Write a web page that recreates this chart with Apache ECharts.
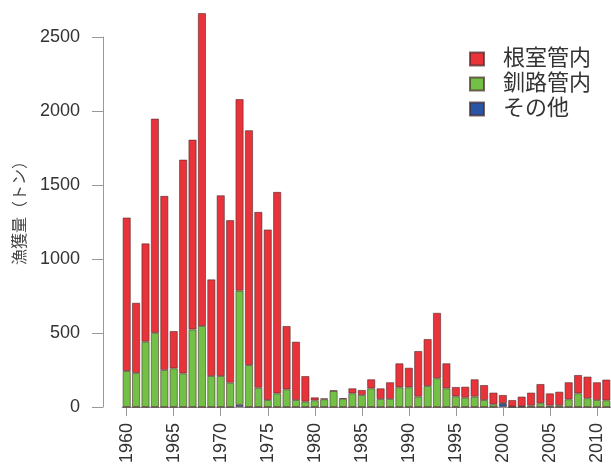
<!DOCTYPE html>
<html><head><meta charset="utf-8">
<script src="https://cdn.jsdelivr.net/npm/echarts@6/dist/echarts.min.js"></script>
<style>html,body{margin:0;padding:0;background:#fff}#c{width:611px;height:475px}</style>
</head><body><div id="c"></div>
<script>
var years = [];
for (var y = 1960; y <= 2011; y++) years.push(String(y));
var seriesNames = ['根室管内', '釧路管内', 'その他'];
var totals = [1280,704,1105,1948,1426,513,1671,1806,2661,862,
              1430,1262,2080,1870,1318,1199,1453,547,441,209,
              65,58,112,60,126,115,187,126,167,295,
              265,378,459,636,295,135,137,187,148,97,
              81,47,70,97,155,92,103,167,216,205,
              167,185];
var kushiro = [243,230,441,501,250,261,227,524,547,209,
               209,164,771,283,130,47,92,119,47,36,
               45,52,108,55,92,81,126,54,54,133,
               133,70,142,194,126,72,63,70,47,18,
               5,3,5,10,25,10,12,52,92,59,
               47,45];
var sonota = [0,0,0,0,0,0,0,0,0,0,
              0,0,15,0,0,0,0,0,0,0,
              0,0,0,0,0,0,0,0,0,0,
              0,0,0,0,0,0,0,0,0,0,
              22,0,0,0,0,0,0,0,0,0,
              0,0];
var nemuro = totals.map(function(t, i){ return Math.max(0, t - kushiro[i] - sonota[i]); });
var yTicks = [0, 500, 1000, 1500, 2000, 2500];

var font = "'Liberation Sans', 'Noto Sans CJK JP', sans-serif";
var border = {borderColor: 'rgba(70,40,40,0.7)', borderWidth: 0.8};
function mk(name, data, color) {
  return {
    name: name, type: 'bar', stack: 'a', data: data, clip: false,
    barCategoryGap: '15%',
    itemStyle: Object.assign({color: color}, border),
    emphasis: {disabled: true}
  };
}
var chart = echarts.init(document.getElementById('c'), null, {renderer: 'canvas'});
chart.setOption({
  animation: false,
  backgroundColor: '#fff',
  textStyle: {fontFamily: font},
  grid: {left: 122, right: -6, top: 37, bottom: 68},
  legend: {
    orient: 'vertical', left: 464, top: 43,
    data: seriesNames,
    itemWidth: 14, itemHeight: 13, itemGap: 3,
    icon: 'rect',
    textStyle: {fontSize: 22, color: '#333', fontFamily: font, padding: [0, 0, 0, 14]}
  },
  xAxis: {
    type: 'category', data: years, offset: 2,
    axisLine: {show: true, lineStyle: {color: '#999', width: 1}},
    axisTick: {show: true, interval: 4, alignWithLabel: true, length: 9, lineStyle: {color: '#999'}},
    axisLabel: {interval: 4, rotate: 90, fontSize: 18, color: '#333', margin: 14, fontFamily: font}
  },
  yAxis: {
    type: 'value', min: yTicks[0], max: yTicks[yTicks.length - 1], interval: 500, offset: 19,
    name: '漁獲量（トン）', nameLocation: 'middle', nameGap: 74,
    nameTextStyle: {fontSize: 16, color: '#444', fontFamily: font, padding: [0, 0, 0, 26]},
    axisLine: {show: true, lineStyle: {color: '#999', width: 1}},
    axisTick: {show: true, length: 11, lineStyle: {color: '#999'}},
    axisLabel: {fontSize: 18, color: '#333', margin: 23, fontFamily: font,
      formatter: function(v){ return String(v); }},
    splitLine: {show: false}
  },
  series: [
    mk(seriesNames[2], sonota, '#2a55a5'),
    mk(seriesNames[1], kushiro, '#72c046'),
    mk(seriesNames[0], nemuro, '#e8333a')
  ]
});
</script></body></html>
